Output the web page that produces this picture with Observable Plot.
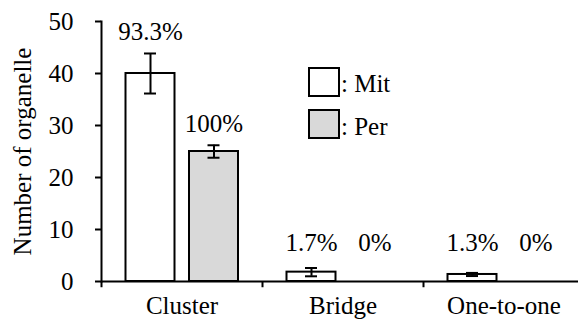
<!DOCTYPE html>
<html>
<head>
<meta charset="utf-8">
<style>
  html, body { margin: 0; padding: 0; background: #fff; font-family: 'Liberation Serif', serif; }
  svg text { font-family: 'Liberation Serif', serif; }
</style>
<script src="https://cdn.jsdelivr.net/npm/d3@7"></script>
<script src="https://cdn.jsdelivr.net/npm/@observablehq/plot@0.6"></script>
</head>
<body>
<div id="wrap"></div>
<script>
const categories = ["Cluster", "Bridge", "One-to-one"];
const series = ["Mit", "Per"];
const mitValues = [40, 1.8, 1.35];
const mitErrors = [3.85, 0.8, 0.3];
const perValues = [25, 0, 0];
const perErrors = [1.2, 0, 0];
const mitLabels = ["93.3%", "1.7%", "1.3%"];
const perLabels = ["100%", "0%", "0%"];
const yTicks = [0, 10, 20, 30, 40, 50];

const fills = {Mit: "#ffffff", Per: "#d9d9d9"};
const offsets = {Mit: -31.5, Per: 32};

const rows = [];
categories.forEach((c, i) => {
  rows.push({cat: c, s: "Mit", v: mitValues[i], e: mitErrors[i], lab: mitLabels[i]});
  rows.push({cat: c, s: "Per", v: perValues[i], e: perErrors[i], lab: perLabels[i]});
});

const W = 578, H = 319, ML = 101, MB = 38, MT = 21;
const xRange = [ML, 584];
const bw = (xRange[1] - xRange[0]) / categories.length;
const barW = 49, capW = 12;
const bInset = (bw - barW) / 2, cInset = (bw - capW) / 2;
const FONT = "'Liberation Serif', serif";

function draw() {
  const marks = [];
  for (const s of series) {
    const d = rows.filter(r => r.s === s);
    const nz = d.filter(r => r.v > 0);
    const er = d.filter(r => r.e > 0);
    marks.push(Plot.barY(nz, {x: "cat", y: "v", fill: fills[s], stroke: "#000", strokeWidth: 2,
      insetLeft: bInset, insetRight: bInset, dx: offsets[s]}));
    marks.push(Plot.ruleX(er, {x: "cat", y1: r => r.v - r.e, y2: r => r.v + r.e, stroke: "#000", strokeWidth: 2, dx: offsets[s]}));
    marks.push(Plot.tickY(er, {x: "cat", y: r => r.v + r.e, stroke: "#000", strokeWidth: 2, insetLeft: cInset, insetRight: cInset, dx: offsets[s]}));
    marks.push(Plot.tickY(er, {x: "cat", y: r => r.v - r.e, stroke: "#000", strokeWidth: 2, insetLeft: cInset, insetRight: cInset, dx: offsets[s]}));
    marks.push(Plot.text(d, {x: "cat", y: r => Math.max(r.v + r.e + 2.5, 5.8), text: "lab", lineAnchor: "bottom",
      textAnchor: "middle", dx: offsets[s], fill: "#000"}));
  }

  const chart = Plot.plot({
    width: W, height: H,
    marginLeft: ML, marginRight: 0, marginTop: MT, marginBottom: MB,
    style: {fontFamily: FONT, fontSize: "25px"},
    x: {type: "band", domain: categories, range: xRange, padding: 0},
    y: {domain: [0, 50]},
    marks: [
      Plot.axisY({ticks: yTicks, tickSize: 6, tickPadding: 22, strokeWidth: 2, label: "Number of organelle",
        labelAnchor: "center", labelArrow: "none", labelOffset: 88, fill: "#000"}),
      Plot.axisX({tickSize: 0, tickPadding: 15, label: null, fill: "#000"}),
      Plot.ruleX(categories, {x: d => d, y1: 0, y2: -1.2, dx: -bw / 2, stroke: "#000", strokeWidth: 2}),
      ...marks,
      Plot.frame({anchor: "left", stroke: "#000", strokeWidth: 2}),
      Plot.ruleY([0], {stroke: "#000", strokeWidth: 2})
    ]
  });

  const svg = d3.select(chart);
  svg.style("overflow", "visible");

  const lg = svg.append("g").attr("font-size", 25).attr("text-anchor", "start");
  const legend = [
    {s: "Mit", top: 68, base: 92},
    {s: "Per", top: 110, base: 135}
  ];
  for (const l of legend) {
    lg.append("rect").attr("x", 309).attr("y", l.top).attr("width", 30).attr("height", 28)
      .attr("fill", fills[l.s]).attr("stroke", "#000").attr("stroke-width", 2);
    lg.append("text").attr("x", 341).attr("y", l.base).attr("fill", "#000").attr("text-anchor", "start").text(": " + l.s);
  }

  document.getElementById("wrap").replaceChildren(chart);
}

draw();
</script>
</body>
</html>
